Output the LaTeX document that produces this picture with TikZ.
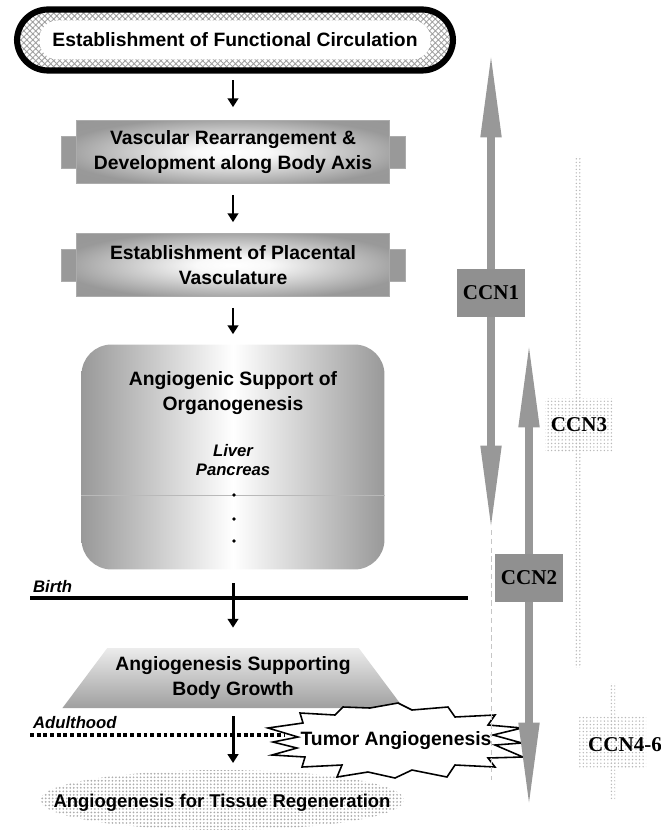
\documentclass[tikz,border=0pt]{standalone}
\usepackage{fontspec}
\setmainfont{Liberation Sans}
\newfontfamily\ccnfont{Liberation Serif}
\usetikzlibrary{arrows.meta,shapes.geometric,patterns.meta}
\definecolor{ccngray}{RGB}{152,152,152}
\pgfdeclareradialshading{stageglow}{\pgfpoint{0bp}{0bp}}{color(0bp)=(white); color(6bp)=(white!95!gray); color(28bp)=(gray!80); color(50bp)=(gray!85)}

\begin{document}
\begin{tikzpicture}[x=0.02cm, y=-0.02cm,
    lbl/.style={font=\fontsize{11}{14}\selectfont\bfseries, align=center},
    flow/.style={-{Triangle[width=6pt,length=5pt]}, line width=1.7pt},
    tab/.style={rectangle, fill=gray!80, draw=gray!65, minimum width=6.88cm, minimum height=0.64cm},
    stage/.style={rectangle, lbl, draw=gray!65, shading=stageglow, minimum width=6.26cm, minimum height=1.26cm},
    ccn/.style={line width=4pt, ccngray, {Triangle[width=11pt,length=48pt]}-{Triangle[width=11pt,length=48pt]}},
    ccnbox/.style={rectangle, fill=ccngray!95!black, minimum width=1.36cm, minimum height=0.98cm, font=\ccnfont\fontsize{12}{14}\selectfont\bfseries},
    dotbox/.style={rectangle, pattern={Dots[distance=2pt,radius=0.45pt]}, pattern color=gray!55, minimum width=1.36cm, minimum height=1.06cm, font=\ccnfont\fontsize{12}{14}\selectfont\bfseries},
    dotline/.style={pattern={Dots[distance=2pt,radius=0.45pt]}, pattern color=gray!55}]
    \useasboundingbox (0,0) rectangle (660,830);
    % embryonic stages
    \node[rectangle, rounded corners=0.62cm, draw=black, line width=3.5pt, minimum width=8.72cm, minimum height=1.22cm,
        pattern={Hatch[angle=45,distance=2.4pt,line width=0.5pt]}, pattern color=gray!75, lbl,
        path picture={\fill[white, rounded corners=0.36cm] ([xshift=0.45cm,yshift=-0.22cm]path picture bounding box.north west) rectangle ([xshift=-0.45cm,yshift=0.22cm]path picture bounding box.south east);}]
        (circ) at (235,40) {Establishment of Functional Circulation};
    \node[tab] (vasctab) at (233,152) {};
    \node[stage] (vasc) at (233,152) {Vascular Rearrangement \&\\Development along Body Axis};
    \node[tab] (plactab) at (233,265) {};
    \node[stage] (plac) at (233,265) {Establishment of Placental\\Vasculature};
    \node[rectangle, rounded corners=0.6cm, minimum width=6.06cm, minimum height=4.5cm, left color=gray!80, right color=gray!80, middle color=white] (organ) at (233,457) {};
    \draw[gray!55, line width=0.5pt] (organ.west |- 0,495) -- (organ.east |- 0,495);
    \node[lbl] (organtitle) at (233,393) {Angiogenic Support of\\Organogenesis};
    \node[font=\fontsize{9.5}{11.3}\selectfont\bfseries\itshape, align=center] (organs) at (233,460) {Liver\\Pancreas};
    \foreach \y in {495,519,541}
        \fill (234,\y) circle (1.1pt);
    \draw[flow, shorten <=0.19cm, shorten >=0.26cm] (circ.south -| vasc.north) -- (vasc.north);
    \draw[flow, shorten <=0.22cm, shorten >=0.22cm] (vasc) -- (plac);
    \draw[flow, shorten <=0.22cm, shorten >=0.2cm] (plac) -- (organ);
    % birth
    \coordinate (birthl) at (30,598);
    \coordinate (birthr) at (468,598);
    \draw[line width=2pt] (birthl) -- (birthr);
    \node[font=\fontsize{9.5}{11}\selectfont\bfseries\itshape, anchor=south west, inner sep=1pt] (birth) at (31,595) {Birth};
    \node[trapezium, trapezium angle=51, trapezium stretches=true, minimum width=6.84cm, minimum height=1.2cm,
        top color=gray!15, bottom color=gray!75, lbl] (growth) at (233,678) {Angiogenesis Supporting\\Body Growth};
    \coordinate (birthmid) at (birthl -| growth.north);
    \draw[flow, shorten >=0.4cm] ([yshift=0.3cm]birthmid) -- (growth.north);
    % adulthood
    \coordinate (adultl) at (30,735);
    \coordinate (adultr) at (285,735);
    \draw[line width=2.3pt, dash pattern=on 2.2pt off 1.6pt] (adultl) -- (adultr);
    \node[font=\fontsize{9.5}{11}\selectfont\bfseries\itshape, anchor=south west, inner sep=1pt] (adult) at (31,731) {Adulthood};
    \coordinate (regenc) at (222,800);
    \coordinate (regentop) at ([yshift=0.6cm]regenc);
    \path[pattern={Dots[distance=2pt,radius=0.55pt]}, pattern color=gray!65] (regenc) ellipse [x radius=3.64cm, y radius=0.6cm];
    \node[font=\fontsize{10.5}{12}\selectfont\bfseries] (regen) at ([yshift=-0.05cm]regenc) {Angiogenesis for Tissue Regeneration};
    \draw[flow, shorten <=0.16cm, shorten >=0.14cm] (growth.south) -- (growth.south |- regentop);
    % tumour burst
    \draw[fill=white, line width=0.9pt, line join=miter] plot coordinates {(268,728) (303,723) (300,713) (335,715) (343,707) (370,708)
        (398,703) (412,710) (448,707) (455,717) (495,715) (488,725) (522,728) (493,735) (522,743) (495,745) (523,757) (488,758)
        (495,767) (455,765) (447,777) (412,770) (395,778) (368,772) (337,777) (342,765) (302,767) (305,757) (272,755) (297,748)
        (273,742) (298,737)} -- cycle;
    \node[lbl] (tumor) at (396,741) {Tumor Angiogenesis};
    % CCN proteins
    \coordinate (ccn1top) at (491,53);
    \coordinate (ccn1bot) at (491,530);
    \coordinate (ccn1end) at (491,780);
    \draw[gray!45, densely dashed, line width=0.5pt] (ccn1bot) -- (ccn1end);
    \draw[ccn] (ccn1top) -- (ccn1bot);
    \node[ccnbox] (ccn1) at (491,293) {CCN1};
    \coordinate (ccn2top) at (529,343);
    \coordinate (ccn2bot) at (529,807);
    \draw[ccn] (ccn2top) -- (ccn2bot);
    \node[ccnbox] (ccn2) at (529,578) {CCN2};
    \coordinate (ccn3top) at (575,157);
    \coordinate (ccn3bot) at (581,667);
    \path[dotline] (ccn3top) rectangle (ccn3bot);
    \node[dotbox] (ccn3) at (579,425) {CCN3};
    \coordinate (ccn46top) at (609,683);
    \coordinate (ccn46bot) at (615,800);
    \path[dotline] (ccn46top) rectangle (ccn46bot);
    \node[dotbox] (ccn46) at (612,742) {};
    \node[font=\ccnfont\fontsize{12}{14}\selectfont\bfseries] (ccn46lbl) at (625,745) {CCN4-6};
\end{tikzpicture}
\end{document}
